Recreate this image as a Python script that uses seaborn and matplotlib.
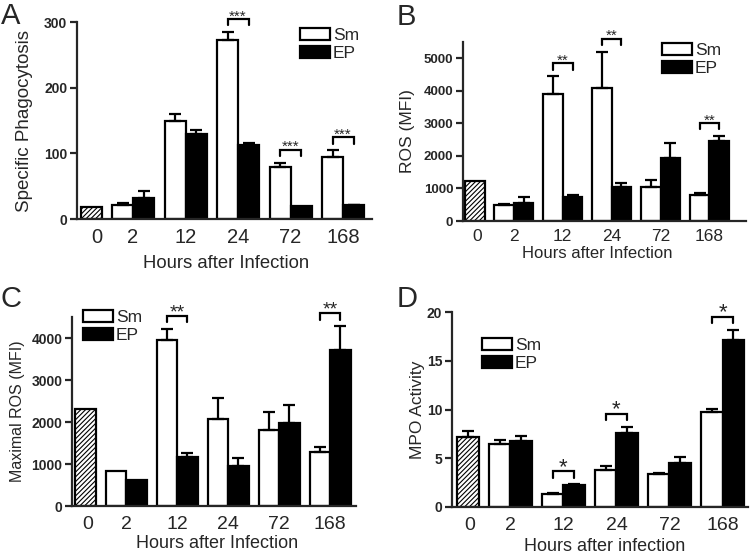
"""
Four-panel bar chart: phagocytosis, ROS, maximal ROS and MPO activity over time
"""
import numpy as np
import pandas as pd
import matplotlib
matplotlib.use("Agg")
import matplotlib.pyplot as plt
import seaborn as sns
from matplotlib.patches import Patch

hours = ["0", "2", "12", "24", "72", "168"]

# A - specific phagocytosis
phago_base, phago_base_err = 19, 0
phago_sm = [21, 150, 272, 79, 95]
phago_sm_err = [4, 10, 13, 7, 10]
phago_ep = [32, 130, 113, 20, 21]
phago_ep_err = [11, 5, 3, 0, 1]
phago_sig = ["", "", "***", "***", "***"]

# B - ROS (MFI)
ros_base, ros_base_err = 1240, 0
ros_sm = [490, 3900, 4100, 1045, 810]
ros_sm_err = [40, 550, 1100, 225, 60]
ros_ep = [563, 748, 1035, 1936, 2450]
ros_ep_err = [175, 40, 145, 460, 165]
ros_sig = ["", "**", "**", "", "**"]

# C - maximal ROS (MFI)
maxros_base, maxros_base_err = 2305, 0
maxros_sm = [832, 3950, 2075, 1800, 1290]
maxros_sm_err = [0, 265, 485, 435, 110]
maxros_ep = [610, 1172, 950, 1965, 3725]
maxros_ep_err = [0, 95, 185, 445, 560]
maxros_sig = ["", "**", "", "", "**"]

# D - MPO activity
mpo_base, mpo_base_err = 7.17, 0.65
mpo_sm = [6.45, 1.37, 3.77, 3.36, 9.74]
mpo_sm_err = [0.42, 0.1, 0.42, 0.1, 0.35]
mpo_ep = [6.76, 2.23, 7.55, 4.53, 17.08]
mpo_ep_err = [0.5, 0.1, 0.68, 0.62, 1.1]
mpo_sig = ["", "*", "*", "", "*"]

sns.set_style("ticks")
plt.rcParams["font.family"] = ["Liberation Sans", "DejaVu Sans"]
plt.rcParams["hatch.linewidth"] = 0.8

LW = 1.6
fig = plt.figure(figsize=(7.5, 5.54), dpi=100)
W, H = 750, 554


def make_axes(left, top, right, bottom):
    """axes from pixel box (left, top, right, bottom)"""
    return fig.add_axes([left / W, 1 - bottom / H, (right - left) / W, (bottom - top) / H])


def panel(ax, base, base_err, sm, sm_err, ep, ep_err, sig, ymax, yticks,
          ylabel, xlabel, xlim, ylab_x, xlab_xy, legend_xy,
          ytick_size=10, xtick_size=14, xtick_pad=6.5, ylab_size=12,
          xlab_size=12, star_size=11, gap_px=13, depth_px=6.5, zero_shift=0.1):
    sm_pos = [1.5 + 2.5 * k for k in range(len(sm))]
    ep_pos = [p + 1.0 for p in sm_pos]
    tick_pos = [zero_shift] + [p + 0.5 for p in sm_pos]

    df = pd.DataFrame({
        "pos": [0.0] + sm_pos + ep_pos,
        "value": [base] + sm + ep,
        "err": [base_err] + sm_err + ep_err,
        "series": ["Baseline"] + ["Sm"] * len(sm) + ["EP"] * len(ep),
    })
    sns.barplot(data=df, x="pos", y="value", hue="series",
                hue_order=["Baseline", "Sm", "EP"],
                palette={"Baseline": "white", "Sm": "white", "EP": "black"},
                native_scale=True, dodge=False, width=1.0, errorbar=None,
                edgecolor="black", linewidth=LW, saturation=1,
                legend=False, ax=ax)
    for bar in ax.containers[0]:
        bar.set_hatch("///////")

    e = df[df["err"] > 0]
    ax.errorbar(e["pos"], e["value"], yerr=[np.zeros(len(e)), e["err"]],
                fmt="none", ecolor="black", elinewidth=LW, capsize=4,
                capthick=LW, zorder=3)

    ax.set_xlim(*xlim)
    ax.set_ylim(0, ymax)
    ax.set_xticks(tick_pos)
    ax.set_xticklabels(hours, fontsize=xtick_size)
    ax.set_yticks(yticks)
    ax.set_yticklabels([str(t) for t in yticks], fontsize=ytick_size, fontweight="bold")
    ax.tick_params(axis="x", length=0, pad=xtick_pad)
    ax.tick_params(axis="y", length=5, width=LW, direction="out", pad=2)
    sns.despine(ax=ax)
    for s in ["left", "bottom"]:
        ax.spines[s].set_linewidth(LW)

    ax.set_ylabel(ylabel, fontsize=ylab_size)
    ax.set_xlabel(xlabel, fontsize=xlab_size)
    ax.yaxis.set_label_coords(ylab_x, 0.5)
    ax.xaxis.set_label_coords(*xlab_xy)

    # significance brackets
    unit = ymax / ax.get_window_extent().height
    for i, s in enumerate(sig):
        if not s:
            continue
        x0, x1 = sm_pos[i], ep_pos[i]
        top = max(sm[i] + sm_err[i], ep[i] + ep_err[i]) + gap_px * unit
        low = top - depth_px * unit
        ax.plot([x0, x0, x1, x1], [low, top, top, low], color="black", lw=LW,
                clip_on=False, solid_joinstyle="miter")
        ax.text((x0 + x1) / 2, top - 1.5 * unit, s, ha="center", va="baseline",
                fontsize=star_size, clip_on=False)

    handles = [Patch(facecolor="white", edgecolor="black", linewidth=LW, label="Sm"),
               Patch(facecolor="black", edgecolor="black", linewidth=LW, label="EP")]
    ax.legend(handles=handles, loc="upper left", bbox_to_anchor=legend_xy,
              frameon=False, fontsize=12.5, borderpad=0, borderaxespad=0,
              handlelength=1.75, handleheight=0.7, handletextpad=0.15,
              labelspacing=0.15)


axA = make_axes(77, 22, 372, 219)
panel(axA, phago_base, phago_base_err, phago_sm, phago_sm_err, phago_ep, phago_ep_err,
      phago_sig, 300, [0, 100, 200, 300], "Specific Phagocytosis",
      "Hours after Infection", (-0.67, 13.38), -0.15, (0.505, -0.185), (0.756, 0.97),
      ylab_size=13.5, xlab_size=13.3, xtick_size=14.5, zero_shift=0.28)

axB = make_axes(463, 42, 746, 221)
panel(axB, ros_base, ros_base_err, ros_sm, ros_sm_err, ros_ep, ros_ep_err,
      ros_sig, 5500, [0, 1000, 2000, 3000, 4000, 5000], "ROS (MFI)",
      "Hours after Infection", (-0.6, 13.87), -0.17, (0.474, -0.14), (0.703, 0.994),
      ytick_size=9.5, xtick_size=12.5, xtick_pad=6, ylab_size=12.5, star_size=11)

axC = make_axes(72, 317, 356, 506)
panel(axC, maxros_base, maxros_base_err, maxros_sm, maxros_sm_err, maxros_ep, maxros_ep_err,
      maxros_sig, 4500, [0, 1000, 2000, 3000, 4000], "Maximal ROS (MFI)",
      "Hours after Infection", (-0.66, 13.26), -0.165, (0.51, -0.155), (0.039, 1.037),
      xtick_pad=7, ylab_size=11.5, xlab_size=13, star_size=14)

axD = make_axes(452, 312, 748, 507)
panel(axD, mpo_base, mpo_base_err, mpo_sm, mpo_sm_err, mpo_ep, mpo_ep_err,
      mpo_sig, 20, [0, 5, 10, 15, 20], "MPO Activity",
      "Hours after infection", (-0.75, 13.2), -0.091, (0.514, -0.16), (0.101, 0.867),
      xtick_pad=7, ylab_size=12.5, xlab_size=13, star_size=16)

for letter, x, y in [("A", 1, 2), ("B", 397, 3), ("C", 0, 285), ("D", 397, 285)]:
    fig.text(x / W, 1 - y / H, letter, fontsize=21, ha="left", va="top")

fig.savefig("out.png", dpi=100)
